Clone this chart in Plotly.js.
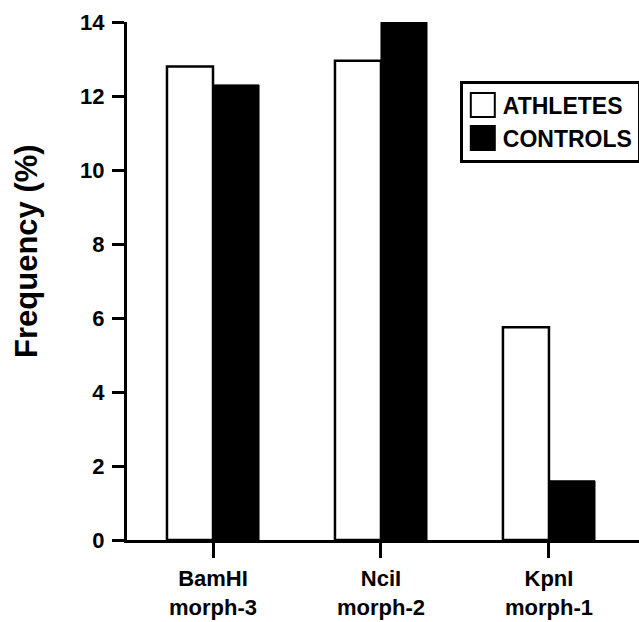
<!DOCTYPE html>
<html>
<head>
<meta charset="utf-8">
<script src="https://cdn.plot.ly/plotly-3.0.1.min.js"></script>
<style>
  html, body { margin: 0; padding: 0; background: #fff; }
  #chart { width: 639px; height: 622px; }
</style>
</head>
<body>
<div id="chart"></div>
<script>
const categories = ["BamHI<br>morph-3", "NciI<br>morph-2", "KpnI<br>morph-1"];
const athletes = [12.8, 12.95, 5.75];
const controls = [12.3, 14.0, 1.6];
const seriesNames = ["ATHLETES", "CONTROLS"];
const yTicks = [0, 2, 4, 6, 8, 10, 12, 14];
const yTitle = "Frequency (%)";

const FONT = "Liberation Sans, Arial, Helvetica, sans-serif";

const traces = [
  {
    type: "bar", name: seriesNames[0], x: [0, 1, 2], y: athletes,
    marker: { color: "#ffffff", line: { color: "#000000", width: 2.5 } },
    hoverinfo: "skip"
  },
  {
    type: "bar", name: seriesNames[1], x: [0, 1, 2], y: controls,
    marker: { color: "#000000", line: { color: "#000000", width: 1 } },
    hoverinfo: "skip"
  }
];

const layout = {
  width: 639, height: 622,
  margin: { l: 127, r: 0, t: 22, b: 82, autoexpand: false },
  paper_bgcolor: "#ffffff", plot_bgcolor: "#ffffff",
  font: { family: FONT, color: "#000000", size: 22, weight: "bold" },
  barmode: "group", bargap: 0.452, bargroupgap: 0,
  showlegend: true,
  legend: {
    x: 0.65, y: 0.887, xanchor: "left", yanchor: "top",
    bordercolor: "#000000", borderwidth: 3, bgcolor: "#ffffff",
    font: { family: FONT, size: 23, weight: "bold", color: "#000000" },
    tracegroupgap: 0
  },
  xaxis: {
    range: [-0.512, 2.536], tickmode: "array", tickvals: [0, 1, 2], ticktext: categories,
    showline: true, linecolor: "#000000", linewidth: 3,
    ticks: "outside", ticklen: 15, tickwidth: 3, tickcolor: "#000000",
    showgrid: false, zeroline: false, ticklabelstandoff: 2,
    tickfont: { family: FONT, size: 22, weight: "bold", color: "#000000" }
  },
  yaxis: {
    range: [0, 14], tickmode: "array", tickvals: yTicks, ticktext: yTicks.map(String),
    showline: true, linecolor: "#000000", linewidth: 3,
    ticks: "outside", ticklen: 12, tickwidth: 3, tickcolor: "#000000",
    showgrid: false, zeroline: false, ticklabelstandoff: 3,
    tickfont: { family: FONT, size: 22, weight: "bold", color: "#000000" }
  },
  annotations: [{
    text: yTitle, xref: "paper", yref: "paper",
    x: -0.1953, y: 0.558, xanchor: "center", yanchor: "middle",
    textangle: -90, showarrow: false,
    font: { family: FONT, size: 31, weight: "bold", color: "#000000" }
  }]
};

Plotly.newPlot("chart", traces, layout, { displayModeBar: false, staticPlot: true }).then(function () {
  document.querySelectorAll("#chart .legend .legendpoints path").forEach(function (p) {
    const t = p.getAttribute("transform") || "";
    p.setAttribute("transform", t + " scale(2)");
    p.style.strokeWidth = "1px";
  });
});
</script>
</body>
</html>
